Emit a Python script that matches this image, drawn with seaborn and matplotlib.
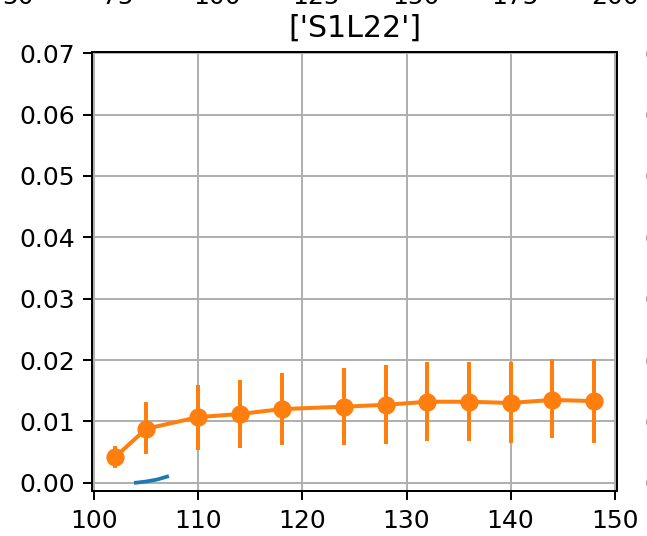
import matplotlib
matplotlib.use("Agg")
import matplotlib.pyplot as plt
import seaborn as sns
import numpy as np
import pandas as pd

# ---- data ----
title = "['S1L22']"

blue_x = [104, 105, 106, 107]
blue_y = [0.0000, 0.0002, 0.0005, 0.0010]

orange_x = [102, 105, 110, 114, 118, 124, 128, 132, 136, 140, 144, 148]
orange_y = [0.0042, 0.0088, 0.0107, 0.0112, 0.0120, 0.0124, 0.0127, 0.0132, 0.0132, 0.0130, 0.0135, 0.0133]
orange_lo = [0.0024, 0.0046, 0.0054, 0.0057, 0.0062, 0.0062, 0.0063, 0.0068, 0.0068, 0.0065, 0.0073, 0.0065]
orange_hi = [0.0060, 0.0132, 0.0160, 0.0168, 0.0179, 0.0187, 0.0192, 0.0197, 0.0197, 0.0197, 0.0202, 0.0202]

x_ticks = [100, 110, 120, 130, 140, 150]
y_ticks = [0.00, 0.01, 0.02, 0.03, 0.04, 0.05, 0.06, 0.07]
top_neighbor_ticks = [50, 75, 100, 125, 150, 175, 200]

W, H, DPI = 647, 536, 180
fig = plt.figure(figsize=(W / DPI, H / DPI), dpi=DPI)

# main panel
ax = fig.add_axes([92.3 / W, 1 - 491 / H, (617.3 - 92.3) / W, (491 - 52) / H])
ax.grid(True, color="#b0b0b0", linewidth=0.8)
ax.set_axisbelow(True)

df_blue = pd.DataFrame({"x": blue_x, "y": blue_y})
df_orange = pd.DataFrame({"x": orange_x, "y": orange_y,
                          "lo": orange_lo, "hi": orange_hi})

sns.lineplot(data=df_blue, x="x", y="y", ax=ax, color="C0", linewidth=1.5)
sns.lineplot(data=df_orange, x="x", y="y", ax=ax, color="C1", linewidth=1.6,
             marker="o", markersize=6.3, markeredgewidth=1, markeredgecolor="C1")
yerr = np.vstack([df_orange["y"] - df_orange["lo"], df_orange["hi"] - df_orange["y"]])
ax.errorbar(df_orange["x"], df_orange["y"], yerr=yerr, fmt="none",
            ecolor="C1", elinewidth=1.6, capsize=0)

ax.set_xlim(99.81, 150.25)
ax.set_ylim(-0.00135, 0.07021)
ax.set_xticks(x_ticks)
ax.set_yticks(y_ticks)
ax.set_yticklabels([f"{v:.2f}" for v in y_ticks])
ax.set_xlabel("")
ax.set_ylabel("")
ax.set_title(title, fontsize=12)

# neighbouring panels of the original grid (mostly outside the crop)
ax_top = fig.add_axes([-60 / W, 1 + 32 / H, 700 / W, 0.5])
ax_top.set_xlim(30.4, 206.3)
ax_top.set_xticks(top_neighbor_ticks)
ax_top.set_yticks([])
ax_top.grid(True, color="#b0b0b0", linewidth=0.8)

ax_right = fig.add_axes([717.5 / W, 1 - 491 / H, 0.8, (491 - 52) / H])
ax_right.set_ylim(-0.00135, 0.07021)
ax_right.set_yticks(y_ticks)
ax_right.set_yticklabels([f"{v:.2f}" for v in y_ticks])
ax_right.set_xticks([])

fig.savefig("out.png", dpi=DPI)
